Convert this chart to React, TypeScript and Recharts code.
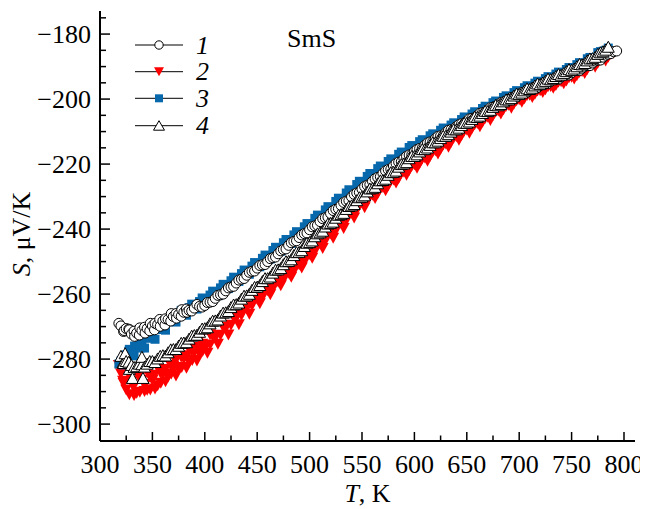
import React from 'react';
import { ScatterChart, Scatter, XAxis, YAxis, Legend } from 'recharts';

// ---------- data ----------
const tempGrid = [320,325,330,335,340,345,350,355,360,365,370,375,380,385,390,395,
  400,405,410,415,420,425,430,435,440,445,450,455,460,465,470,475,480,485,490,495,
  500,505,510,515,520,525,530,535,540,545,550,555,560,565,570,575,580,585,590,595,
  600,605,610,615,620,625,630,635,640,645,650,655,660,665,670,675,680,685,690,695,
  700,705,710,715,720,725,730,735,740,745,750,755,760,765,770,775,780,785,790];

const halfGrid = [322.5,327.5,332.5,337.5,342.5,347.5,352.5,357.5,362.5,367.5,372.5,377.5,382.5,387.5,392.5,397.5,
  402.5,407.5,412.5,417.5,422.5,427.5,432.5,437.5,442.5,447.5,452.5,457.5,462.5,467.5,472.5,477.5,482.5,487.5,492.5,497.5,
  502.5,507.5,512.5,517.5,522.5,527.5,532.5,537.5,542.5,547.5,552.5,557.5,562.5,567.5,572.5,577.5,582.5,587.5,592.5,597.5,
  602.5,607.5,612.5,617.5,622.5,627.5,632.5,637.5,642.5,647.5,652.5,657.5,662.5,667.5,672.5,677.5,682.5,687.5,692.5,697.5,
  702.5,707.5,712.5,717.5,722.5,727.5,732.5,737.5,742.5,747.5,752.5,757.5,762.5,767.5,772.5,777.5,782.5,787.5];

// series 1 (open circles)
const series1 = [-269.8,-270.6,-272.3,-272.0,-271.2,-270.6,-269.8,-269.4,-268.3,-267.8,-266.9,-266.3,-265.6,-265.0,-264.3,-263.8,
  -263.5,-262.5,-261.3,-260.2,-259.0,-257.8,-256.6,-255.4,-254.2,-253.0,
  -252.0,-251.0,-250.0,-248.8,-247.6,-246.3,-245.0,-243.8,-242.6,-241.4,
  -240.2,-239.0,-237.7,-236.5,-235.2,-233.9,-232.7,-231.4,-230.1,-228.9,
  -227.7,-226.5,-225.3,-224.1,-222.9,-221.7,-220.6,-219.4,-218.3,-217.2,
  -216.2,-215.2,-214.2,-213.2,-212.2,-211.3,-210.3,-209.4,-208.5,-207.6,
  -206.8,-205.9,-205.1,-204.2,-203.4,-202.5,-201.7,-200.9,-200.1,-199.3,
  -198.6,-197.9,-197.2,-196.5,-195.8,-195.1,-194.5,-193.9,-193.2,-192.5,
  -191.9,-191.2,-190.5,-189.7,-188.9,-188.0,-187.1,-186.2,-185.4];
const series1b = [-271.5,-270.8,-271.4,-272.6,-270.2,-271.3,-269.0,-269.9,-267.6,-268.3,-266.0,-266.8,-264.6,-265.2,-263.2,-264.0,
  -262.6,-262.3,-260.4,-260.0,-258.1,-257.6,-255.7,-255.2,-253.3,-252.9,
  -251.2,-250.9,-249.1,-248.6,-246.7,-246.1,-244.2,-243.6,-241.8,-241.2,
  -239.3,-238.8,-236.8,-236.3,-234.3,-233.7,-231.8,-231.2,-229.3,-228.7,
  -226.9,-226.3,-224.5,-223.9,-222.1,-221.6,-219.8,-219.3,-217.6,-217.1,
  -215.5,-215.1,-213.5,-213.1,-211.5,-211.2,-209.6,-209.3,-207.9,-207.6,
  -206.1,-205.8,-204.4,-204.1,-202.7,-202.4,-201.1,-200.9,-199.5,-199.4,
  -198.0,-197.9,-196.6,-196.5,-195.2,-195.2,-193.9,-193.9,-192.6,-192.6,
  -191.3,-191.2,-189.9,-189.7,-188.3,-188.0,-186.5,-186.0];

// series 2 (red down triangles)
const series2 = [-284.5,-289.5,-287.0,-290.5,-286.5,-289.6,-286.6,-288.2,-284.6,-285.5,-282.2,-283.2,-280.0,-280.8,-278.0,-278.6,
  -276.5,-275.7,-273.5,-272.7,-270.5,-269.6,-267.4,-266.6,-264.4,-263.6,
  -261.6,-261.0,-259.0,-258.3,-256.3,-255.7,-253.6,-253.0,-251.0,-250.1,
  -247.8,-246.9,-244.6,-243.7,-241.4,-240.5,-238.3,-237.4,-235.1,-234.3,
  -232.0,-231.5,-229.6,-229.1,-227.2,-226.7,-224.9,-224.4,-222.5,-222.0,
  -220.2,-219.8,-218.1,-217.6,-215.9,-215.4,-213.8,-213.3,-211.6,-211.2,
  -209.5,-209.0,-207.5,-207.1,-205.6,-205.1,-203.7,-203.3,-201.9,-201.5,
  -200.2,-199.9,-198.8,-198.5,-197.4,-197.1,-196.1,-195.8,-194.7,-194.4,
  -193.3,-192.8,-191.5,-190.9,-189.6,-189.0,-187.7,-187.1,-185.8];
const series2b = [-287.5,-284.6,-291.2,-285.8,-290.0,-285.4,-289.2,-284.2,-287.0,-282.0,-285.2,-279.4,-282.8,-277.6,-280.6,-275.4,
  -278.2,-273.0,-275.4,-270.2,-272.6,-267.2,-269.4,-264.4,-266.2,-261.5,
  -263.0,-258.8,-260.2,-256.0,-257.4,-253.3,-254.8,-250.6,-252.0,-247.8,
  -249.0,-244.9,-246.0,-241.8,-242.8,-238.7,-239.8,-235.6,-236.6,-232.6,
  -233.4,-229.9,-230.6,-227.5,-228.2,-225.1,-225.8,-222.8,-223.4,-220.6,
  -221.3,-218.4,-219.1,-216.3,-216.9,-214.1,-214.8,-212.0,-212.7,-209.9,
  -210.5,-207.9,-208.5,-206.0,-206.6,-204.0,-204.6,-202.2,-202.8,-200.5,
  -201.0,-198.9,-199.5,-197.5,-198.0,-196.2,-196.7,-194.8,-195.3,-193.4,
  -193.8,-191.8,-192.1,-189.9,-190.2,-188.0,-188.3,-186.2];

// series 3 (blue squares)
const series3 = [-280.6,-278.7,-278.2,-276.4,-275.6,-273.6,-272.8,-270.9,-270.3,-268.4,-267.9,-266.2,-265.7,-264.2,-263.8,-262.3,
  -262.0,-260.3,-259.8,-258.1,-257.6,-255.9,-255.4,-253.7,-253.2,-251.4,
  -250.8,-249.0,-248.4,-246.6,-246.0,-244.2,-243.6,-241.8,-241.2,-239.3,
  -238.6,-236.7,-236.0,-234.1,-233.4,-231.5,-230.8,-228.9,-228.2,-226.3,
  -225.6,-223.8,-223.2,-221.4,-220.9,-219.2,-218.7,-217.0,-216.5,-214.9,
  -214.6,-213.1,-212.8,-211.3,-211.0,-209.6,-209.4,-208.0,-207.7,-206.3,
  -206.0,-204.6,-204.4,-202.9,-202.6,-201.1,-200.9,-199.5,-199.3,-198.0,
  -197.8,-196.5,-196.4,-195.1,-195.0,-193.7,-193.6,-192.3,-192.2,-190.9,
  -190.8,-189.4,-189.1,-187.6,-187.3,-185.7,-185.3,-184.3,null];
const series3b = [-281.8,-277.6,-279.0,-275.0,-276.6,-272.4,-273.9,-269.8,-271.1,-267.2,-268.6,-265.0,-266.5,-263.1,-264.6,-261.2,
  -262.6,-259.1,-260.5,-257.0,-258.3,-254.8,-256.1,-252.6,-253.9,-250.3,
  -251.6,-248.0,-249.2,-245.6,-246.8,-243.2,-244.4,-240.8,-241.9,-238.3,
  -239.4,-235.7,-236.8,-233.1,-234.1,-230.5,-231.5,-227.9,-228.9,-225.3,
  -226.3,-222.9,-223.8,-220.6,-221.5,-218.4,-219.3,-216.3,-217.1,-214.3,
  -215.1,-212.5,-213.2,-210.7,-211.4,-208.9,-209.7,-207.3,-207.9,-205.5,
  -206.2,-203.9,-204.6,-202.2,-202.9,-200.6,-201.2,-199.0,-199.5,-197.4,
  -197.9,-195.9,-196.4,-194.5,-194.9,-193.1,-193.5,-191.7,-192.0,-190.3,
  -190.5,-188.8,-189.0,-187.2,-187.3,-185.4,-185.0,null];

// series 4 (open up triangles)
const series4 = [-279.0,-280.6,-281.8,-282.2,-281.6,-281.4,-280.6,-279.8,-278.8,-277.9,-276.9,-275.9,-274.9,-273.7,-272.6,-271.6,
  -270.5,-269.0,-268.1,-266.6,-265.6,-264.0,-263.1,-261.4,-260.4,-258.7,
  -257.7,-256.0,-255.1,-253.4,-252.4,-250.8,-249.8,-248.0,-247.0,-245.2,
  -244.0,-242.2,-241.0,-239.2,-238.1,-236.5,-235.4,-233.8,-232.7,-231.1,
  -230.0,-228.4,-227.4,-225.9,-224.9,-223.3,-222.4,-220.8,-219.8,-218.2,
  -217.5,-216.1,-215.4,-214.1,-213.3,-212.0,-211.3,-210.0,-209.3,-208.0,
  -207.3,-206.1,-205.5,-204.3,-203.7,-202.4,-201.9,-200.7,-200.1,-198.9,
  -198.4,-197.3,-196.9,-195.8,-195.4,-194.4,-193.9,-192.9,-192.5,-191.4,
  -191.0,-189.9,-189.3,-188.1,-187.4,-186.1,-185.3,-183.9,null];
const series4b = [-281.2,-280.8,-282.4,-281.4,-282.3,-280.6,-280.9,-279.0,-278.9,-277.0,-276.9,-275.0,-274.8,-272.8,-272.5,-270.6,
  -270.2,-268.2,-267.8,-265.7,-265.2,-263.2,-262.6,-260.5,-259.9,-257.8,
  -257.2,-255.1,-254.6,-252.5,-252.0,-249.9,-249.3,-247.1,-246.5,-244.2,
  -243.5,-241.3,-240.5,-238.3,-237.7,-235.6,-235.0,-232.9,-232.3,-230.2,
  -229.6,-227.5,-227.0,-225.0,-224.5,-222.5,-222.0,-220.0,-219.4,-217.5,
  -217.0,-215.4,-214.9,-213.3,-212.8,-211.3,-210.8,-209.3,-208.8,-207.3,
  -206.9,-205.4,-205.1,-203.6,-203.3,-201.8,-201.5,-200.1,-199.7,-198.3,
  -198.0,-196.7,-196.5,-195.2,-194.9,-193.7,-193.5,-192.3,-192.0,-190.8,
  -190.6,-189.2,-188.9,-187.5,-187.0,-185.6,-184.8,null];

// extra scattered readings (low-T region and ends)
const extra1T = [318, 323, 328, 333, 338, 343, 348, 352, 357, 362, 368, 373, 378, 383, 793];
const extra1S = [-269.0,-271.2,-271.0,-273.0,-270.4,-272.0,-269.0,-271.0,-267.8,-269.5,-266.0,-267.4,-264.8,-265.6,-185.2];
const extra2T = [318, 322, 326, 328, 332, 336, 338, 343, 346, 348, 352, 358, 362, 368, 372, 378, 383, 385, 388, 393, 395, 398, 405];
const extra2S = [-282.0,-286.8,-283.8,-291.0,-288.5,-284.6,-290.2,-287.8,-284.0,-289.5,-285.0,-287.4,-283.2,-284.6,-280.5,-282.6,-279.0,-277.0,-280.4,-276.4,-274.0,-277.6,-272.5];
const extra3T = [318, 323, 328, 333, 338];
const extra3S = [-281.5,-280.2,-277.0,-276.0,-276.6];
const extra4T = [322, 324, 328, 331, 340, 341];
const extra4S = [-281.0,-278.2,-283.0,-285.8,-279.3,-285.8];

const xTicks = [300,325,350,375,400,425,450,475,500,525,550,575,600,625,650,675,700,725,750,775,800];
const yTicks = [-300,-295,-290,-285,-280,-275,-270,-265,-260,-255,-250,-245,-240,-235,-230,-225,-220,-215,-210,-205,-200,-195,-190,-185,-180,-175];
const seriesNames = ['1', '2', '3', '4'];

// ---------- helpers ----------
const FONT = "'Liberation Serif', 'DejaVu Serif', serif";
const TXT = { fontFamily: FONT } as React.CSSProperties;
const RED = '#ff0000';
const BLUE = '#0868ac';

function build(lists: [number[], (number | null)[]][]) {
  const pts: { x: number; y: number }[] = [];
  lists.forEach(([ts, vs]) => {
    ts.forEach((t, i) => { const v = vs[i]; if (v !== null && v !== undefined) pts.push({ x: t, y: v }); });
  });
  return pts.sort((a, b) => a.x - b.x);
}

const data1 = build([[tempGrid, series1], [halfGrid, series1b], [extra1T, extra1S]]);
const data2 = build([[tempGrid, series2], [halfGrid, series2b], [extra2T, extra2S]]);
const data3 = build([[tempGrid, series3], [halfGrid, series3b], [extra3T, extra3S]]);
const data4 = build([[tempGrid, series4], [halfGrid, series4b], [extra4T, extra4S]]);

const CircleMark = (p: any) => (
  <circle cx={p.cx} cy={p.cy} r={5} fill="#fff" stroke="#000" strokeWidth={1} />
);
const DownTri = (p: any) => {
  const { cx, cy } = p; const w = 6, h = 5.5;
  return <path d={`M${cx - w},${cy - h}L${cx + w},${cy - h}L${cx},${cy + h}Z`} fill={RED} />;
};
const SquareMark = (p: any) => (
  <rect x={p.cx - 4.5} y={p.cy - 4.5} width={9} height={9} fill={BLUE} />
);
const UpTri = (p: any) => {
  const { cx, cy } = p; const w = 6, h = 5.5;
  return <path d={`M${cx - w},${cy + h}L${cx + w},${cy + h}L${cx},${cy - h}Z`} fill="#fff" stroke="#000" strokeWidth={1} />;
};

const XTick = (props: any) => {
  const { x, y, payload } = props;
  const v = payload.value;
  const major = v % 50 === 0;
  return (
    <g>
      <line x1={x} x2={x} y1={y} y2={y - (major ? 9 : 5.5)} stroke="#000" strokeWidth={1.5} />
      {major && (
        <text x={x} y={y + 23} textAnchor="middle" dominantBaseline="central" style={TXT} fontSize={26} fill="#000">
          {v}
        </text>
      )}
    </g>
  );
};

const YTick = (props: any) => {
  const { x, y, payload } = props;
  const v = payload.value;
  const major = v % 20 === 0;
  return (
    <g>
      <line x1={x} x2={x + (major ? 10 : 6)} y1={y} y2={y} stroke="#000" strokeWidth={1.5} />
      {major && (
        <text x={x - 9} y={y} textAnchor="end" dominantBaseline="central" style={TXT} fontSize={26} fill="#000">
          {(v < 0 ? '\u2212' : '') + Math.abs(v)}
        </text>
      )}
    </g>
  );
};

const XTitle = (props: any) => {
  const vb = props.viewBox || {};
  return (
    <text x={vb.x + vb.width / 2} y={vb.y + 52} textAnchor="middle" dominantBaseline="central" style={TXT} fontSize={26} fill="#000">
      <tspan fontStyle="italic">T</tspan>, K
    </text>
  );
};

const YTitle = (props: any) => {
  const vb = props.viewBox || {};
  const cx = 13, cy = vb.y + vb.height / 2 + 8;
  return (
    <text x={cx} y={cy} transform={`rotate(-90, ${cx}, ${cy})`} textAnchor="middle" dominantBaseline="central" style={TXT} fontSize={26} fill="#000">
      <tspan fontStyle="italic">S</tspan>, μV/K
    </text>
  );
};

const legendMarks = [
  (x: number, y: number) => <circle cx={x} cy={y} r={4.2} fill="#fff" stroke="#000" strokeWidth={1} />,
  (x: number, y: number) => <path d={`M${x - 5},${y - 4.5}L${x + 5},${y - 4.5}L${x},${y + 4.5}Z`} fill={RED} />,
  (x: number, y: number) => <rect x={x - 4} y={y - 4} width={8} height={8} fill={BLUE} />,
  (x: number, y: number) => <path d={`M${x - 5.5},${y + 4.5}L${x + 5.5},${y + 4.5}L${x},${y - 5}Z`} fill="#fff" stroke="#000" strokeWidth={1} />,
];
const legendRows = [27, 53.7, 80.3, 107.7];

const LegendContent = () => (
  <svg width={260} height={130} style={{ display: 'block', overflow: 'visible' }}>
    {seriesNames.map((n, i) => (
      <g key={n}>
        <line x1={7} x2={55} y1={legendRows[i]} y2={legendRows[i]} stroke="#000" strokeWidth={1} />
        {legendMarks[i](31, legendRows[i])}
        <text x={68} y={legendRows[i]} dominantBaseline="central" style={TXT} fontStyle="italic" fontSize={26} fill="#000">
          {n}
        </text>
      </g>
    ))}
    <text x={159} y={20} dominantBaseline="central" style={TXT} fontSize={26} fill="#000">SmS</text>
  </svg>
);

export default function App() {
  return (
    <div style={{ fontFamily: FONT }}>
      <ScatterChart width={640} height={501} margin={{ top: 3, right: 13, bottom: 18, left: 0 }}>
        <XAxis
          type="number"
          dataKey="x"
          domain={[300, 810.5]}
          allowDataOverflow
          ticks={xTicks}
          interval={0}
          tickSize={0}
          tickMargin={0}
          tickLine={false}
          tick={<XTick />}
          height={50}
          axisLine={{ stroke: '#000', strokeWidth: 2 }}
          label={{ content: (p: any) => <XTitle {...p} /> }}
        />
        <YAxis
          type="number"
          dataKey="y"
          domain={[-305.2, -172.9]}
          allowDataOverflow
          ticks={yTicks}
          interval={0}
          tickSize={0}
          tickMargin={0}
          tickLine={false}
          tick={<YTick />}
          width={92}
          axisLine={{ stroke: '#000', strokeWidth: 2 }}
          label={{ content: (p: any) => <YTitle {...p} /> }}
        />
        <Legend
          layout="horizontal"
          verticalAlign="middle"
          align="center"
          content={() => <LegendContent />}
          wrapperStyle={{ left: 120, top: 10, width: 260, height: 130 }}
        />
        <Scatter name="2" data={data2} shape={<DownTri />} isAnimationActive={false} />
        <Scatter name="3" data={data3} shape={<SquareMark />} isAnimationActive={false} />
        <Scatter name="1" data={data1} shape={<CircleMark />} isAnimationActive={false} />
        <Scatter name="4" data={data4} shape={<UpTri />} isAnimationActive={false} />
      </ScatterChart>
    </div>
  );
}
